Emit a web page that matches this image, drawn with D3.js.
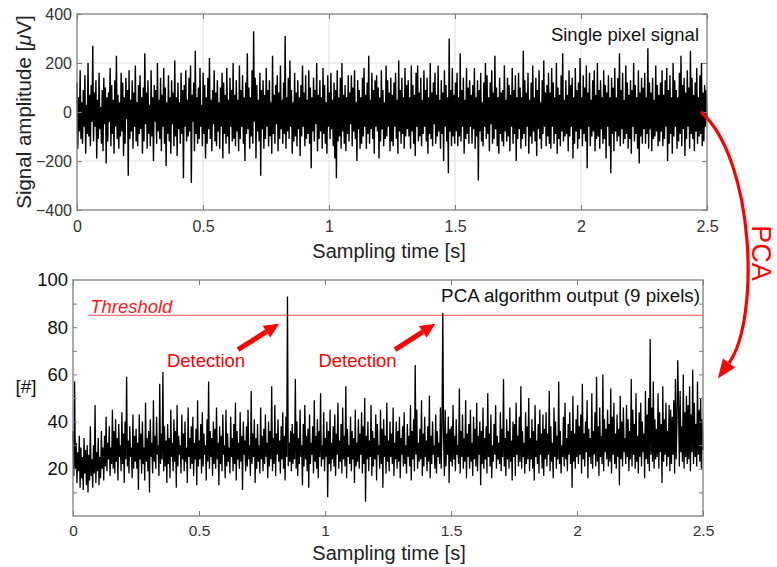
<!DOCTYPE html>
<html>
<head>
<meta charset="utf-8">
<script src="https://cdn.jsdelivr.net/npm/d3@7"></script>
<style>
  body { margin: 0; background: #fff; }
  svg { display: block; font-family: "Liberation Sans", Arial, sans-serif; }
</style>
</head>
<body>
<div id="chart-container"></div>
<script>
// ---- DATA ----
// single pixel signal [uV], evenly sampled over 0 .. 2.5 s
const pixelSignal = [
  120,-150,60,-80,170,-110,40,-130,90,-60,150,-170,30,-90,200,-100,70,-140,110,-40,
  270,-120,80,-60,130,-190,50,-110,160,-70,20,-130,90,-160,140,-50,100,-210,60,-120,
  80,-40,180,-140,110,-90,50,-170,130,-60,230,-110,70,-150,40,-100,160,-80,120,-180,
  60,-130,140,-30,90,-260,170,-110,50,-80,130,-150,80,-60,190,-120,40,-140,110,-90,
  150,-70,60,-170,100,-120,240,-50,80,-150,130,-90,30,-140,170,-100,60,-200,110,-40,
  90,-130,200,-80,50,-110,140,-160,70,-60,180,-130,100,-220,40,-90,150,-120,60,-170,
  130,-50,80,-140,210,-100,60,-180,120,-70,40,-130,160,-90,90,-270,110,-60,170,-120,
  50,-100,140,-80,190,-290,70,-40,120,-160,250,-90,60,-130,100,-110,180,-60,30,-140,
  160,-90,110,-190,60,-130,140,-70,220,-110,50,-160,90,-50,170,-120,80,-140,130,-80,
  40,-150,100,-60,160,-190,120,-90,70,-130,180,-100,50,-170,140,-60,90,-120,200,-110,
  70,-140,130,-80,50,-160,190,-110,90,-60,150,-130,60,-200,120,-90,240,-70,100,-150,
  60,-100,170,-130,330,-40,140,-190,110,-80,50,-120,160,-260,90,-70,130,-150,70,-110,
  180,-60,90,-140,130,-100,40,-170,230,-90,70,-130,110,-50,150,-160,80,-110,190,-70,
  50,-130,120,-90,310,-150,60,-80,140,-110,210,-60,90,-170,40,-120,160,-100,80,-140,
  130,-70,60,-180,110,-100,190,-60,80,-140,150,-110,50,-90,170,-130,100,-230,60,-80,
  140,-120,90,-50,200,-160,70,-110,130,-80,60,-150,180,-90,110,-130,40,-170,150,-60,
  80,-110,160,-70,50,-140,120,-190,90,-270,170,-120,60,-100,140,-150,200,-80,70,-130,
  110,-160,60,-90,150,-120,80,-50,150,-140,100,-80,170,-110,40,-200,130,-70,90,-150,
  60,-130,140,-100,180,-60,70,-150,120,-90,230,-130,50,-70,160,-110,90,-170,130,-60,
  150,-80,100,-190,60,-120,170,-70,90,-140,40,-110,190,-100,130,-60,80,-160,140,-120,
  70,-140,120,-60,160,-110,50,-170,210,-80,90,-130,140,-90,60,-150,180,-100,110,-70,
  130,-100,60,-150,190,-80,110,-130,70,-180,160,-60,190,-120,80,-100,140,-140,50,-90,
  170,-60,90,-120,140,-170,60,-90,200,-110,80,-140,120,-50,160,-130,70,-100,190,-80,
  50,-150,130,-90,80,-200,170,-60,110,-120,60,-250,300,-80,90,-140,180,-100,70,-130,
  120,-80,160,-140,60,-100,240,-120,90,-60,140,-170,50,-110,180,-90,100,-130,130,-60,
  70,-130,110,-70,180,-150,60,-100,130,-280,90,-80,160,-120,40,-140,120,-60,200,-110,
  150,-90,60,-160,120,-50,170,-130,80,-110,230,-70,100,-140,60,-170,140,-90,80,-120,
  90,-140,190,-80,50,-120,140,-100,110,-160,70,-60,180,-130,90,-90,150,-200,60,-110,
  160,-70,100,-150,60,-110,250,-90,130,-140,80,-60,160,-170,50,-100,120,-130,190,-80,
  60,-120,140,-180,90,-70,170,-110,40,-150,130,-90,210,-60,80,-140,110,-100,160,-130,
  80,-150,180,-60,120,-130,60,-90,200,-170,100,-110,70,-140,150,-80,240,-120,50,-100,
  130,-90,70,-160,170,-100,110,-60,140,-190,60,-130,180,-80,90,-150,120,-110,220,-70,
  60,-140,150,-90,100,-120,190,-230,80,-60,160,-140,50,-100,130,-80,170,-160,70,-110,
  200,-100,90,-150,130,-70,60,-130,170,-110,110,-190,80,-60,150,-140,60,-250,140,-90,
  100,-160,180,-80,60,-120,140,-100,240,-140,90,-70,160,-130,50,-110,190,-90,120,-150,
  70,-110,130,-170,90,-60,200,-120,110,-90,60,-150,170,-210,80,-100,140,-130,100,-70,
  160,-130,60,-90,260,-150,120,-70,80,-160,140,-110,50,-100,190,-80,110,-140,70,-120,
  120,-80,170,-140,70,-110,130,-60,180,-200,90,-130,150,-90,60,-170,200,-100,130,-60,
  90,-150,60,-120,160,-90,230,-140,110,-70,140,-180,80,-110,170,-60,100,-150,250,-90,
  140,-110,70,-160,120,-80,180,-130,60,-100,150,-90,200,-140,80,-120,110,-60,90,-20
];
// PCA output [#], 9 pixels, same time base
const pcaOutput = [
  36,17,57,20,31,14,27,19,34,12,29,16,25,11,33,18,28,13,30,10,
  26,15,38,17,24,12,30,18,47,14,27,19,33,13,25,16,36,20,29,15,
  34,21,42,19,31,24,38,17,29,22,45,20,36,18,41,23,33,15,39,25,
  30,19,44,22,35,14,40,24,59,21,32,18,38,25,29,16,43,20,34,23,
  37,20,31,11,43,24,35,18,40,22,29,15,48,23,33,19,36,10,41,25,
  31,18,49,23,34,20,42,26,30,17,56,22,35,24,61,19,38,21,32,14,
  39,22,33,16,45,25,31,19,41,23,36,12,47,21,34,26,30,18,43,24,
  35,19,40,23,29,14,46,25,33,20,38,22,42,17,31,24,37,13,49,21,
  32,24,39,18,44,21,35,26,30,15,41,23,57,20,36,25,33,17,40,22,
  37,20,46,24,31,13,38,22,34,19,43,26,30,16,45,21,35,23,29,18,
  42,25,33,19,39,22,48,15,36,24,31,20,44,23,34,11,40,26,32,19,
  38,21,45,24,30,17,53,22,35,25,41,14,33,20,39,23,30,18,46,24,
  34,19,37,22,43,25,31,16,40,21,36,24,55,19,33,22,47,17,35,26,
  41,23,32,18,38,24,44,20,34,15,42,25,93,21,31,23,36,19,39,22,
  35,24,58,20,40,17,33,22,45,25,30,13,39,21,47,24,34,19,37,12,
  43,22,31,26,38,18,49,23,34,20,41,16,36,25,52,21,30,24,44,19,
  33,25,40,8,36,22,45,19,31,24,38,21,43,17,35,26,48,20,32,23,
  39,18,46,24,34,21,55,16,37,25,30,22,42,19,36,24,33,14,45,21,
  31,23,41,20,35,26,44,18,38,22,50,6,34,24,40,19,32,25,47,17,
  36,21,33,24,43,15,39,26,30,20,45,22,37,12,41,25,34,18,48,23,
  32,19,40,25,35,22,46,17,31,24,40,20,36,23,42,16,33,26,38,21,
  44,22,30,18,39,25,34,21,47,15,36,24,41,19,64,26,45,20,31,23,
  37,24,49,17,35,21,42,25,32,19,38,23,51,16,34,22,40,26,30,20,
  43,18,36,25,31,22,46,20,39,86,33,17,45,21,35,26,42,14,37,23,
  38,21,47,24,34,19,41,26,30,22,54,18,36,25,43,20,33,23,49,16,
  35,25,39,20,45,23,31,17,42,24,37,21,48,19,34,26,40,13,36,22,
  46,20,33,24,38,18,52,25,35,21,43,16,30,23,39,26,47,20,34,24,
  31,22,44,19,37,25,58,21,33,17,41,24,36,20,46,23,32,15,40,25,
  39,17,48,26,34,21,42,23,55,20,36,25,31,18,44,22,38,24,50,19,
  33,24,41,20,36,15,47,25,32,22,39,18,45,26,35,20,43,17,37,24,
  44,21,35,26,53,19,38,23,31,16,46,25,40,20,34,24,57,22,36,18,
  30,25,42,21,48,24,33,19,39,26,44,22,36,12,51,23,35,20,41,25,
  47,22,38,26,43,18,56,24,35,21,40,27,49,16,37,25,33,22,52,20,
  36,26,44,21,59,23,38,17,46,25,34,22,60,19,41,27,37,24,45,21,
  39,23,54,18,42,26,48,22,35,20,43,25,37,13,51,24,40,21,46,27,
  33,22,47,25,41,19,36,24,58,21,45,26,39,20,52,23,34,18,44,25,
  48,21,40,27,35,16,53,24,43,22,50,19,75,26,46,23,57,20,41,24,
  37,25,52,20,44,27,39,14,55,23,41,26,48,21,36,25,47,19,45,22,
  42,26,49,18,58,24,40,66,46,21,53,27,38,23,60,20,44,25,51,22,
  47,24,55,19,43,27,62,22,48,25,39,21,57,26,45,23,50,20,41,28
];
const timeDomain = [0, 2.5];
const xTicks = [0, 0.5, 1, 1.5, 2, 2.5];
const topYTicks = [-400, -200, 0, 200, 400];
const topGridX = [0.5, 1, 1.5, 2];
const topGridY = [-200, 0, 200];
const botYTicks = [20, 40, 60, 80, 100];
const botMinorTicks = [10, 20, 30, 40, 50, 60, 70, 80, 90];
const threshold = 85;
// detection arrows: tail / tip / label in data units (time, count)
const detections = [
  { tail: [0.655, 70.5], tip: [0.818, 81.5], label: [0.528, 63] },
  { tail: [1.278, 70.5], tip: [1.438, 81.5], label: [1.129, 63] }
];

// ---- SVG ----
const width = 777, height = 567;
const svg = d3.select("#chart-container").append("svg")
  .attr("width", width).attr("height", height);

const frameColor = "#7d7d7d", textColor = "#222";

// Scales
const xTop = d3.scaleLinear().domain(timeDomain).range([77, 707]);
const yTop = d3.scaleLinear().domain([-400, 400]).range([210, 14]);
const xBot = d3.scaleLinear().domain(timeDomain).range([73, 703]);
const yBot = d3.scaleLinear().domain([0, 100]).range([516, 280]);

const sampleTime = (i, n) => timeDomain[0] + (timeDomain[1] - timeDomain[0]) * i / (n - 1);

// Axis helper: inward ticks, optional labels
function drawAxis(g, axis, transform, fontSize, fill) {
  const a = g.append("g").attr("transform", transform).call(axis);
  a.select(".domain").remove();
  a.selectAll(".tick line").attr("stroke", frameColor).attr("stroke-width", 1);
  a.selectAll(".tick text").attr("fill", fill).style("font-size", fontSize + "px")
    .style("font-family", '"Liberation Sans", Arial, sans-serif');
  return a;
}

// Arrow helper (line + triangle head)
function drawArrow(g, x1, y1, x2, y2, w, headLen, headW, color) {
  const a = Math.atan2(y2 - y1, x2 - x1);
  const bx = x2 - headLen * Math.cos(a), by = y2 - headLen * Math.sin(a);
  if (w > 0) {
    g.append("line").attr("x1", x1).attr("y1", y1).attr("x2", bx).attr("y2", by)
      .attr("stroke", color).attr("stroke-width", w);
  }
  const px = -Math.sin(a) * headW / 2, py = Math.cos(a) * headW / 2;
  g.append("polygon")
    .attr("points", `${x2},${y2} ${bx + px},${by + py} ${bx - px},${by - py}`)
    .attr("fill", color);
}

/// TOP PANEL
const topG = svg.append("g").attr("id", "top-panel");
// grid
topG.selectAll(".vgrid").data(topGridX).join("line")
  .attr("x1", d => xTop(d)).attr("x2", d => xTop(d))
  .attr("y1", yTop.range()[1]).attr("y2", yTop.range()[0])
  .attr("stroke", "#dedede").attr("stroke-width", 1);
topG.selectAll(".hgrid").data(topGridY).join("line")
  .attr("x1", xTop.range()[0]).attr("x2", xTop.range()[1])
  .attr("y1", d => yTop(d)).attr("y2", d => yTop(d))
  .attr("stroke", "#dedede").attr("stroke-width", 1);
// signal
const topLine = d3.line()
  .x((d, i) => xTop(sampleTime(i, pixelSignal.length)))
  .y(d => yTop(d));
topG.append("path").datum(pixelSignal)
  .attr("d", topLine).attr("fill", "none")
  .attr("stroke", "#000").attr("stroke-width", 1.4);
// frame
topG.append("rect")
  .attr("x", xTop.range()[0]).attr("y", yTop.range()[1])
  .attr("width", xTop.range()[1] - xTop.range()[0])
  .attr("height", yTop.range()[0] - yTop.range()[1])
  .attr("fill", "none").attr("stroke", frameColor).attr("stroke-width", 1.3);
// axes
drawAxis(topG, d3.axisBottom(xTop).tickValues(xTicks).tickFormat(d3.format("~g")).tickSize(-5).tickPadding(11),
  `translate(0,${yTop.range()[0]})`, 16, "#333");
drawAxis(topG, d3.axisTop(xTop).tickValues(xTicks).tickFormat("").tickSize(-5),
  `translate(0,${yTop.range()[1]})`, 16, "#333");
drawAxis(topG, d3.axisLeft(yTop).tickValues(topYTicks).tickSize(-5).tickPadding(5),
  `translate(${xTop.range()[0]},0)`, 16, "#333");
drawAxis(topG, d3.axisRight(yTop).tickValues(topYTicks).tickFormat("").tickSize(-5),
  `translate(${xTop.range()[1]},0)`, 16, "#333");
// titles
topG.append("text").attr("x", 389).attr("y", 258).attr("text-anchor", "middle")
  .style("font-size", "20px").attr("fill", textColor).text("Sampling time [s]");
topG.append("text").attr("transform", `translate(31,${yTop(0)}) rotate(-90)`)
  .attr("text-anchor", "middle").style("font-size", "20.5px").attr("fill", textColor)
  .text("Signal amplitude [")
  .append("tspan").style("font-style", "italic").text("\u03BC")
  .select(function () { return this.parentNode; })
  .append("tspan").text("V]");
topG.append("text").attr("x", 699).attr("y", 41).attr("text-anchor", "end")
  .style("font-size", "18.5px").attr("fill", "#111").text("Single pixel signal");

/// BOTTOM PANEL
const botG = svg.append("g").attr("id", "bottom-panel");
// threshold
botG.append("line")
  .attr("x1", xBot(0.06)).attr("x2", xBot.range()[1])
  .attr("y1", yBot(threshold)).attr("y2", yBot(threshold))
  .attr("stroke", "#ff7070").attr("stroke-width", 1.3);
botG.append("text").attr("x", xBot(0.068)).attr("y", yBot(threshold) - 2)
  .style("font-size", "18.5px").style("font-style", "italic")
  .attr("fill", "#ff1a1a").text("Threshold");
// signal
const botLine = d3.line()
  .x((d, i) => xBot(sampleTime(i, pcaOutput.length)))
  .y(d => yBot(d));
botG.append("path").datum(pcaOutput)
  .attr("d", botLine).attr("fill", "none")
  .attr("stroke", "#000").attr("stroke-width", 1.3);
// frame
botG.append("rect")
  .attr("x", xBot.range()[0]).attr("y", yBot.range()[1])
  .attr("width", xBot.range()[1] - xBot.range()[0])
  .attr("height", yBot.range()[0] - yBot.range()[1])
  .attr("fill", "none").attr("stroke", frameColor).attr("stroke-width", 1.3);
// axes
drawAxis(botG, d3.axisBottom(xBot).tickValues(xTicks).tickFormat(d3.format("~g")).tickSize(-5).tickPadding(9),
  `translate(0,${yBot.range()[0]})`, 15.5, "#333");
drawAxis(botG, d3.axisTop(xBot).tickValues(xTicks).tickFormat("").tickSize(-5),
  `translate(0,${yBot.range()[1]})`, 15, "#333");
drawAxis(botG, d3.axisLeft(yBot).tickValues(botMinorTicks).tickFormat("").tickSize(-4),
  `translate(${xBot.range()[0]},0)`, 18, "#111");
drawAxis(botG, d3.axisLeft(yBot).tickValues(botYTicks).tickSize(0).tickPadding(5),
  `translate(${xBot.range()[0]},0)`, 18.5, "#111");
drawAxis(botG, d3.axisRight(yBot).tickValues(botMinorTicks).tickFormat("").tickSize(-4),
  `translate(${xBot.range()[1]},0)`, 18, "#111");
// titles
botG.append("text").attr("x", 389).attr("y", 560).attr("text-anchor", "middle")
  .style("font-size", "20px").attr("fill", textColor).text("Sampling time [s]");
botG.append("text").attr("x", 26).attr("y", 393).attr("text-anchor", "middle")
  .style("font-size", "19px").attr("fill", "#111").text("[#]");
botG.append("text").attr("x", 700).attr("y", 302).attr("text-anchor", "end")
  .style("font-size", "18.8px").attr("fill", "#111").text("PCA algorithm output (9 pixels)");

// detection annotations
detections.forEach(d => {
  drawArrow(botG, xBot(d.tail[0]), yBot(d.tail[1]), xBot(d.tip[0]), yBot(d.tip[1]),
    5, 15, 14, "#ff0000");
  botG.append("text").attr("x", xBot(d.label[0])).attr("y", yBot(d.label[1]))
    .attr("text-anchor", "middle").style("font-size", "18.5px")
    .attr("fill", "#ff0000").text("Detection");
});

/// PCA ARC between panels
const arcG = svg.append("g").attr("id", "pca-arc");
const p0 = [xTop(2.5) - 6, yTop(0)];
const c1 = [755, 160], c2 = [760, 320], base = [729, 363];
arcG.append("path")
  .attr("d", `M${p0[0]},${p0[1]} C${c1[0]},${c1[1]} ${c2[0]},${c2[1]} ${base[0]},${base[1]}`)
  .attr("fill", "none").attr("stroke", "#ff0000").attr("stroke-width", 3.2);
{
  const dx = base[0] - c2[0], dy = base[1] - c2[1], len = Math.hypot(dx, dy);
  const headLen = 19;
  const tip = [base[0] + dx / len * headLen, base[1] + dy / len * headLen];
  drawArrow(arcG, base[0], base[1], tip[0], tip[1], 0, headLen, 15, "#ff0000");
}
arcG.append("text").attr("transform", "translate(752,253) rotate(90)")
  .attr("text-anchor", "middle").style("font-size", "27px")
  .attr("fill", "#ff0000").text("PCA");
</script>
</body>
</html>
